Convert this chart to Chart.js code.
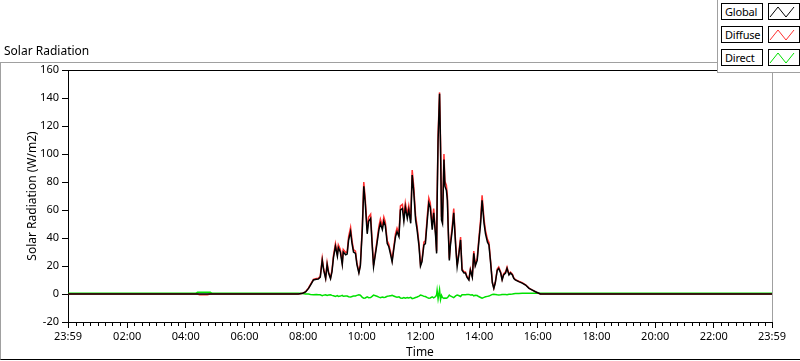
<!DOCTYPE html>
<html>
<head>
<meta charset="utf-8">
<title>Solar Radiation</title>
<script src="https://cdn.jsdelivr.net/npm/chart.js@4.4.0/dist/chart.umd.min.js"></script>
<style>
  body { margin: 0; background: #fff; font-family: "Noto Sans", sans-serif; color: #000; }
  #wrap { position: relative; width: 800px; height: 361px; overflow: hidden; }
  #frame { position: absolute; left: 0; top: 62px; width: 800px; height: 298px; box-sizing: border-box;
           border-top: 1px solid #a0a0a0; border-left: 1px solid #a0a0a0; border-bottom: 1px solid #000; }
  #chart { position: absolute; left: 0; top: 0; }
  #title { position: absolute; left: 4px; top: 42px; font-size: 12px; }
  #legend { position: absolute; left: 717px; top: 0; width: 83px; height: 73px; box-sizing: border-box; background: #fff;
            border-left: 1px solid #a0a0a0; border-bottom: 1px solid #a0a0a0; }
  .name { position: absolute; left: 3px; width: 42px; height: 17px; box-sizing: border-box; border: 1px solid #000;
          font-size: 11px; letter-spacing: -0.2px; line-height: 15px; padding-left: 3px; white-space: nowrap; overflow: hidden; }
  .sym { position: absolute; left: 50px; width: 32px; height: 17px; box-sizing: border-box; border: 1px solid #000; }
  .sym svg { display: block; }
</style>
</head>
<body>
<div id="wrap">
  <div id="frame"></div>
  <canvas id="chart" width="800" height="361"></canvas>
  <div id="title">Solar Radiation</div>
  <div id="legend"></div>
</div>
<script>
// x axis labels (first 23:59 is the day before)
const tickLabels = ['23:59', '02:00', '04:00', '06:00', '08:00', '10:00', '12:00',
                    '14:00', '16:00', '18:00', '20:00', '22:00', '23:59'];
const yTicks = [-20, 0, 20, 40, 60, 80, 100, 120, 140, 160];

const seriesNames = ['Global', 'Diffuse', 'Direct'];
const seriesColors = ['#000000', '#ff3030', '#00e000'];

// sample times
const times = ['23:59', '04:20', '04:24', '04:28', '04:44', '04:50', '04:54', '07:46',
  '07:50', '07:59', '08:05', '08:11', '08:15', '08:21', '08:27', '08:31', '08:35', '08:39',
  '08:42', '08:46', '08:49', '08:52', '08:56', '08:59', '09:02', '09:06', '09:10', '09:12',
  '09:16', '09:20', '09:22', '09:27', '09:30', '09:33', '09:37', '09:40', '09:43', '09:47',
  '09:50', '09:54', '09:57', '10:01', '10:04', '10:07', '10:11', '10:14', '10:18', '10:21',
  '10:24', '10:28', '10:31', '10:35', '10:38', '10:42', '10:45', '10:48', '10:52', '10:55',
  '10:59', '11:02', '11:05', '11:09', '11:12', '11:16', '11:19', '11:23', '11:26', '11:29',
  '11:33', '11:36', '11:40', '11:43', '11:46', '11:50', '11:53', '11:57', '12:00', '12:03',
  '12:07', '12:10', '12:14', '12:17', '12:20', '12:24', '12:27', '12:31', '12:33', '12:34',
  '12:36', '12:39', '12:41', '12:43', '12:45', '12:48', '12:50', '12:53', '12:55', '12:57',
  '12:59', '13:01', '13:05', '13:08', '13:12', '13:15', '13:18', '13:22', '13:25', '13:29',
  '13:32', '13:35', '13:39', '13:42', '13:46', '13:49', '13:52', '13:56', '13:59', '14:03',
  '14:06', '14:10', '14:13', '14:17', '14:20', '14:23', '14:27', '14:30', '14:33', '14:37',
  '14:40', '14:44', '14:47', '14:50', '14:54', '14:57', '15:01', '15:04', '15:08', '15:11',
  '15:14', '15:21', '15:28', '15:35', '15:42', '15:48', '15:55', '16:02', '16:05', '23:59'];

const globalValues = [0, 0, 0, 0, 0, 0, 0, 0,
  0, 0.5, 1.5, 4, 6.4, 10, 10.5, 10.7, 12, 24,
  17, 11, 21, 15, 11, 16, 26, 34, 27, 33,
  30, 21, 30, 28, 28.5, 38.6, 44.5, 36, 30, 29,
  21, 15, 20, 46, 77, 65, 43, 52, 54, 36,
  19.5, 29, 36, 46, 50.5, 46, 52, 49, 36, 34,
  28, 23, 31, 41, 44.5, 41, 60, 61, 52, 62,
  54, 60, 50.5, 85, 74, 53, 46, 34, 20, 23,
  35, 36, 53, 65, 62, 46, 58, 41, 29, 65,
  110, 143, 105, 53, 50.5, 96, 77, 74, 67, 43,
  24, 34, 46, 58, 34, 19.5, 27, 38.6, 17, 15,
  15, 12, 10, 17, 12, 29, 20, 24, 36, 50.5,
  67, 50.5, 43, 37, 35, 24, 8, 4, 8, 17,
  18.3, 15, 10, 13.6, 15, 18.3, 13.6, 15, 13.6, 11,
  10, 8.8, 7.8, 6.4, 4, 2.9, 1.6, 0.5, 0, 0];

const diffuseValues = [0, 0, 0, -0.6, -0.6, 0, 0, 0,
  0, 0.5, 1.6, 4.3, 6.8, 10.5, 11, 11.2, 12.6, 25.5,
  18, 11.5, 22.3, 15.8, 11.6, 17, 27.5, 36, 28.5, 35,
  31.8, 22.2, 31.8, 29.6, 30, 41, 47.5, 38, 31.7, 30.6,
  22.2, 15.8, 21, 48.5, 80, 68, 45.5, 55, 57, 38,
  20.5, 30.5, 38, 48.5, 53.5, 48.5, 55, 51.5, 38, 35.8,
  29.5, 24.2, 32.7, 43.3, 47, 43.2, 63, 64, 54.8, 65,
  57, 63, 53, 88.5, 77.5, 55.8, 48.5, 35.8, 21, 24.2,
  37, 38, 56, 68.5, 65, 48.5, 61, 43.2, 30.5, 68,
  114, 144, 109, 55.5, 53, 100, 80.5, 77.5, 70, 45.3,
  25.3, 35.8, 48.5, 61, 35.8, 20.5, 28.5, 40.7, 17.9, 15.8,
  15.8, 12.6, 10.5, 17.9, 12.6, 30.6, 21, 25.3, 38, 53.3,
  70.5, 53.2, 45.3, 39, 36.8, 25.2, 8.4, 4.2, 8.4, 17.9,
  19.3, 15.8, 10.5, 14.3, 15.8, 19.2, 14.2, 15.6, 14.1, 11.4,
  10.3, 9.1, 8.1, 6.6, 4.2, 3, 1.7, 0.5, 0, 0];

const directValues = [0.5, 0.5, 1.2, 1.2, 1.2, 1.2, 0.5, 0.5,
  0.5, 0.3, 0, 0, -0.3, -0.5, -0.3, -0.5, -0.6, -1.2,
  -0.8, -0.5, -1, -0.7, -0.5, -1, -1.3, -1.8, -1.2, -1.7,
  -1.5, -1, -1.6, -1.4, -1.5, -2, -2.2, -1.8, -1.5, -1.4,
  -1, -0.6, -0.9, -2.4, -3, -2.8, -2, -2.6, -2.5, -1.7,
  -0.8, -1.2, -1.6, -2.2, -2.6, -2.1, -2.5, -2.3, -1.6, -1.5,
  -1.2, -1, -1.4, -2, -2.3, -2, -2.8, -3, -2.5, -3,
  -2.6, -2.8, -2.4, -3.3, -3, -2.5, -2.1, -1.5, -0.8, -1,
  -1.7, -1.8, -2.6, -3, -2.8, -2, -2.7, -1.8, -0.5, 2.5,
  -3.5, 3, -4, -1, -2.5, -3.2, -2.8, -3, -2.6, -1.8,
  -0.8, -1.4, -2, -2.6, -1.4, -0.7, -1.1, -1.8, -0.6, -0.5,
  -0.5, -0.4, -0.3, -0.7, -0.5, -1.3, -0.9, -1.1, -1.8, -2.5,
  -3, -2.4, -2, -1.7, -1.5, -1, -0.3, -0.1, -0.3, -0.6,
  -0.7, -0.5, -0.3, -0.4, -0.4, -0.5, -0.2, -0.1, 0, 0.2,
  0.3, 0.4, 0.5, 0.5, 0.5, 0.5, 0.5, 0.5, 0.5, 0.5];

// minutes since midnight, the leading 23:59 belongs to the previous day
function toMin(t, first) {
  const [h, m] = t.split(':').map(Number);
  const v = h * 60 + m;
  return first && v === 1439 ? -1 : v;
}

const xs = times.map((t, i) => toMin(t, i === 0));
const tickValues = tickLabels.map((t, i) => toMin(t, i === 0));

function points(values) {
  return values.map((v, i) => ({ x: xs[i], y: v }));
}

// legend boxes
const legend = document.getElementById('legend');
seriesNames.forEach((name, i) => {
  const top = 3 + i * 23;
  legend.insertAdjacentHTML('beforeend',
    `<div class="name" style="top:${top}px">${name}</div>` +
    `<div class="sym" style="top:${top}px"><svg width="30" height="15">` +
    `<polyline points="1,13 9,3 17,13 25,3" fill="none" stroke="${seriesColors[i]}" stroke-width="1"/></svg></div>`);
});

// top / right border of the plot and the small 15 min ticks
const plotFrame = {
  id: 'plotFrame',
  afterDraw(chart) {
    const { ctx, chartArea: a } = chart;
    const x = chart.scales.x;
    ctx.save();
    ctx.lineWidth = 1;
    ctx.strokeStyle = '#000';
    ctx.beginPath();
    ctx.moveTo(a.left, a.top + 0.5);
    ctx.lineTo(a.right, a.top + 0.5);
    ctx.stroke();
    ctx.strokeStyle = '#a0a0a0';
    ctx.beginPath();
    ctx.moveTo(a.right + 0.5, a.top);
    ctx.lineTo(a.right + 0.5, a.bottom);
    ctx.stroke();
    ctx.strokeStyle = '#000';
    ctx.beginPath();
    for (let m = 15; m < 1439; m += 15) {
      if (m % 120 === 0) continue;
      const px = Math.round(x.getPixelForValue(m)) + 0.5;
      ctx.moveTo(px, a.bottom);
      ctx.lineTo(px, a.bottom + 4);
    }
    ctx.stroke();
    ctx.restore();
  }
};

Chart.defaults.font.family = '"Noto Sans", sans-serif';
Chart.defaults.font.size = 11;
Chart.defaults.color = '#000';

const allValues = [globalValues, diffuseValues, directValues];

new Chart(document.getElementById('chart'), {
  type: 'line',
  data: {
    datasets: seriesNames.map((name, i) => ({
      label: name,
      data: points(allValues[i]),
      borderColor: seriesColors[i],
      borderWidth: 1.5,
      pointRadius: 0,
      tension: 0,
      fill: false
    }))
  },
  options: {
    responsive: false,
    animation: false,
    devicePixelRatio: 1,
    layout: { padding: { top: 70, right: 28, bottom: 0, left: 0 } },
    plugins: { legend: { display: false }, tooltip: { enabled: false } },
    scales: {
      x: {
        type: 'linear',
        min: -1,
        max: 1439,
        afterBuildTicks: s => { s.ticks = tickValues.map(v => ({ value: v })); },
        afterFit: s => { s.height = 39; },
        ticks: {
          autoSkip: false,
          maxRotation: 0,
          padding: 2,
          callback: (v, i) => tickLabels[i]
        },
        grid: { drawOnChartArea: false, tickLength: 6, tickColor: '#000' },
        border: { color: '#000', width: 1 },
        title: { display: true, text: 'Time', font: { size: 12 }, padding: { top: 0, bottom: 1 } }
      },
      y: {
        min: -20,
        max: 160,
        afterBuildTicks: s => { s.ticks = yTicks.map(v => ({ value: v })); },
        afterFit: s => { s.width = 68; },
        ticks: { padding: 3 },
        grid: { drawOnChartArea: false, tickLength: 6, tickColor: '#000' },
        border: { color: '#000', width: 1 },
        title: { display: true, text: 'Solar Radiation (W/m2)', font: { size: 12 }, padding: { top: 25, bottom: 0 } }
      }
    }
  },
  plugins: [plotFrame]
});
</script>
</body>
</html>
